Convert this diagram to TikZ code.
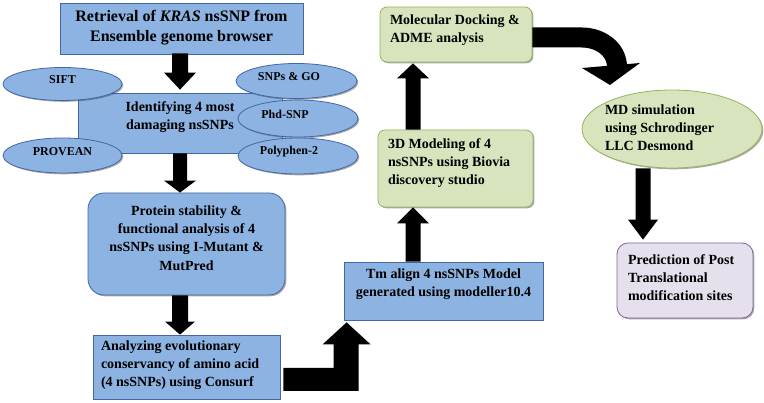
\documentclass[tikz,border=0pt]{standalone}
\usepackage{fontspec}
\setmainfont{Liberation Serif}
\usetikzlibrary{calc,shadows,shapes.geometric}
\definecolor{bfill}{RGB}{141,179,226}
\definecolor{bdraw}{RGB}{66,103,165}
\definecolor{gfill}{RGB}{215,228,189}
\definecolor{gdraw}{RGB}{150,180,90}
\definecolor{pfill}{RGB}{229,224,236}
\definecolor{pdraw}{RGB}{128,100,162}
\newcommand\fbig{\fontsize{16}{20}\selectfont\bfseries}
\newcommand\fmid{\fontsize{14}{18.3}\selectfont\bfseries}
\newcommand\fsml{\fontsize{12}{14}\selectfont\bfseries}
\newcommand\myup[2]{\raisebox{#1}[\height][\depth]{#2}}
\newcommand\myc[2]{\raisebox{#1}[\height][\depth]{\begin{tabular}{@{}c@{}}#2\end{tabular}}}
\newcommand\myl[3]{\raisebox{#1}[\height][\depth]{\makebox[#2][l]{\begin{tabular}{@{}l@{}}#3\end{tabular}}}}
\newcommand\blkdown[5]{\fill[blockfill] let \p1=(#1), \p2=(#2) in
  (\x2-#3pt,\y1) -- (\x2+#3pt,\y1) -- (\x2+#3pt,\y2+#5pt) -- (\x2+#4pt,\y2+#5pt)
  -- (\x2,\y2) -- (\x2-#4pt,\y2+#5pt) -- (\x2-#3pt,\y2+#5pt) -- cycle;}
\newcommand\blkup[5]{\fill[blockfill] let \p1=(#1), \p2=(#2) in
  (\x2-#3pt,\y1) -- (\x2+#3pt,\y1) -- (\x2+#3pt,\y2-#5pt) -- (\x2+#4pt,\y2-#5pt)
  -- (\x2,\y2) -- (\x2-#4pt,\y2-#5pt) -- (\x2-#3pt,\y2-#5pt) -- cycle;}
\tikzset{
  shd/.style={drop shadow={shadow xshift=1.3pt,shadow yshift=-1.3pt,opacity=0.45,fill=black!75}},
  bluebox/.style={rectangle, draw=bdraw, fill=bfill, line width=0.8pt, inner sep=0pt, shd, font=\fmid},
  blueell/.style={ellipse, draw=bdraw, fill=bfill, line width=0.8pt, inner sep=0pt, shd, font=\fsml},
  greenbox/.style={rectangle, draw=gdraw, fill=gfill, line width=0.8pt, inner sep=0pt, shd, font=\fmid},
  greenell/.style={ellipse, draw=gdraw, fill=gfill, line width=0.8pt, inner sep=0pt, shd, font=\fmid},
  purplebox/.style={rectangle, draw=pdraw, fill=pfill, line width=0.8pt, inner sep=0pt, shd, font=\fmid},
  blockfill/.style={fill=black},
  bandline/.style={draw=black, line width=20pt}
}
\begin{document}
\begin{tikzpicture}[x=1pt,y=-1pt]
\useasboundingbox (0,0) rectangle (764,403);
% boxes
\node[bluebox, minimum width=243pt, minimum height=51pt, font=\fbig] (top) at (181.5,28.5)
  {\myc{1pt}{Retrieval of \textit{KRAS} nsSNP from\\Ensemble genome browser}};
\node[bluebox, minimum width=204pt, minimum height=60pt] (ident) at (180,123)
  {\myc{6pt}{Identifying 4 most\\damaging nsSNPs}};
\node[blueell, minimum width=119pt, minimum height=33pt] (sift) at (62.5,84) {\myup{4pt}{SIFT}};
\node[blueell, minimum width=119pt, minimum height=35pt] (provean) at (62.5,155.5) {\myup{4pt}{PROVEAN}};
\node[blueell, minimum width=121pt, minimum height=35pt] (snpsgo) at (296.5,81) {\myup{4pt}{SNPs \& GO}\hspace*{15pt}};
\node[blueell, minimum width=120pt, minimum height=37pt] (phd) at (298,118.5) {\myup{4pt}{Phd-SNP}\hspace*{26pt}};
\node[blueell, minimum width=120pt, minimum height=36pt] (poly) at (298,156) {\myup{4pt}{Polyphen-2}\hspace*{18pt}};
\node[bluebox, rounded corners=16pt, minimum width=197pt, minimum height=102pt] (protein) at (186.5,244)
  {\myc{5pt}{Protein stability \&\\functional analysis of 4\\nsSNPs using I-Mutant \&\\MutPred}};
\node[bluebox, minimum width=187pt, minimum height=64pt] (analyze) at (186.5,367)
  {\myl{2pt}{171pt}{Analyzing evolutionary\\conservancy of amino acid\\(4 nsSNPs) using Consurf}};
\node[bluebox, minimum width=199pt, minimum height=58pt] (tm) at (443.5,291)
  {\myc{7pt}{Tm align 4 nsSNPs Model\\generated using modeller10.4}};
\node[greenbox, rounded corners=7pt, minimum width=155pt, minimum height=77pt] (threeD) at (455.5,168.5)
  {\myl{5.5pt}{135pt}{3D Modeling of 4\\nsSNPs using Biovia\\discovery studio}};
\node[greenbox, rounded corners=7pt, minimum width=152pt, minimum height=55pt] (dock) at (456,34.5)
  {\myl{4.5pt}{132pt}{Molecular Docking \&\\ADME analysis}};
\node[greenell, minimum width=180pt, minimum height=78pt] (md) at (672,129)
  {\makebox[0pt]{\myl{0pt}{117pt}{MD simulation\\using Schrodinger\\LLC Desmond}\hspace*{17pt}}};
\node[purplebox, rounded corners=11pt, minimum width=136pt, minimum height=75pt] (pred) at (685,280.5)
  {\myl{1.5pt}{114pt}{Prediction of Post\\Translational\\modification sites}};
% column coordinates for the block arrows
\coordinate (colx) at (413,0);
\coordinate (mdx) at (643,0);
% straight block arrows
\blkdown{$(top.south)+(0,-1)$}{$(ident.north)+(0,-3)$}{8}{16}{17}
\blkdown{ident.south}{ident.south |- protein.north}{7}{16}{12}
\blkdown{ident.south |- protein.south}{ident.south |- analyze.north}{8}{15}{13}
\blkup{colx |- tm.north}{colx |- threeD.south}{7.5}{16}{16}
\blkup{colx |- threeD.north}{$(colx |- dock.south)+(0,1)$}{7.5}{16}{15}
\blkdown{mdx |- md.south}{$(mdx |- pred.north)+(0,-3)$}{7.5}{15}{20}
% elbow block arrow
\fill[blockfill] let \p1=(analyze.east), \p2=($(tm.south west)+(3,2)$) in
  (\x1+3pt,\y1-1pt) -- (\x2-13pt,\y1-1pt) -- (\x2-13pt,\y2-22pt) -- (\x2-24pt,\y2-22pt)
  -- (\x2,\y2) -- (\x2+24pt,\y2-22pt) -- (\x2+12pt,\y2-22pt) -- (\x2+12pt,\y1-24pt)
  -- (\x1+3pt,\y1-24pt) -- cycle;
% curved block arrow
\coordinate (c0) at ($(dock.east)+(0,3)$);
\coordinate (c1) at (582,37.5);
\coordinate (c2) at (617,67);
\coordinate (hl) at (582,68);
\coordinate (hr) at (640,63);
\coordinate (ht) at (610,85);
\draw[bandline] (c0) -- (c1) to[out=0,in=90] (c2);
\fill[blockfill] (hl) -- (hr) -- (ht) -- cycle;
\end{tikzpicture}
\end{document}
